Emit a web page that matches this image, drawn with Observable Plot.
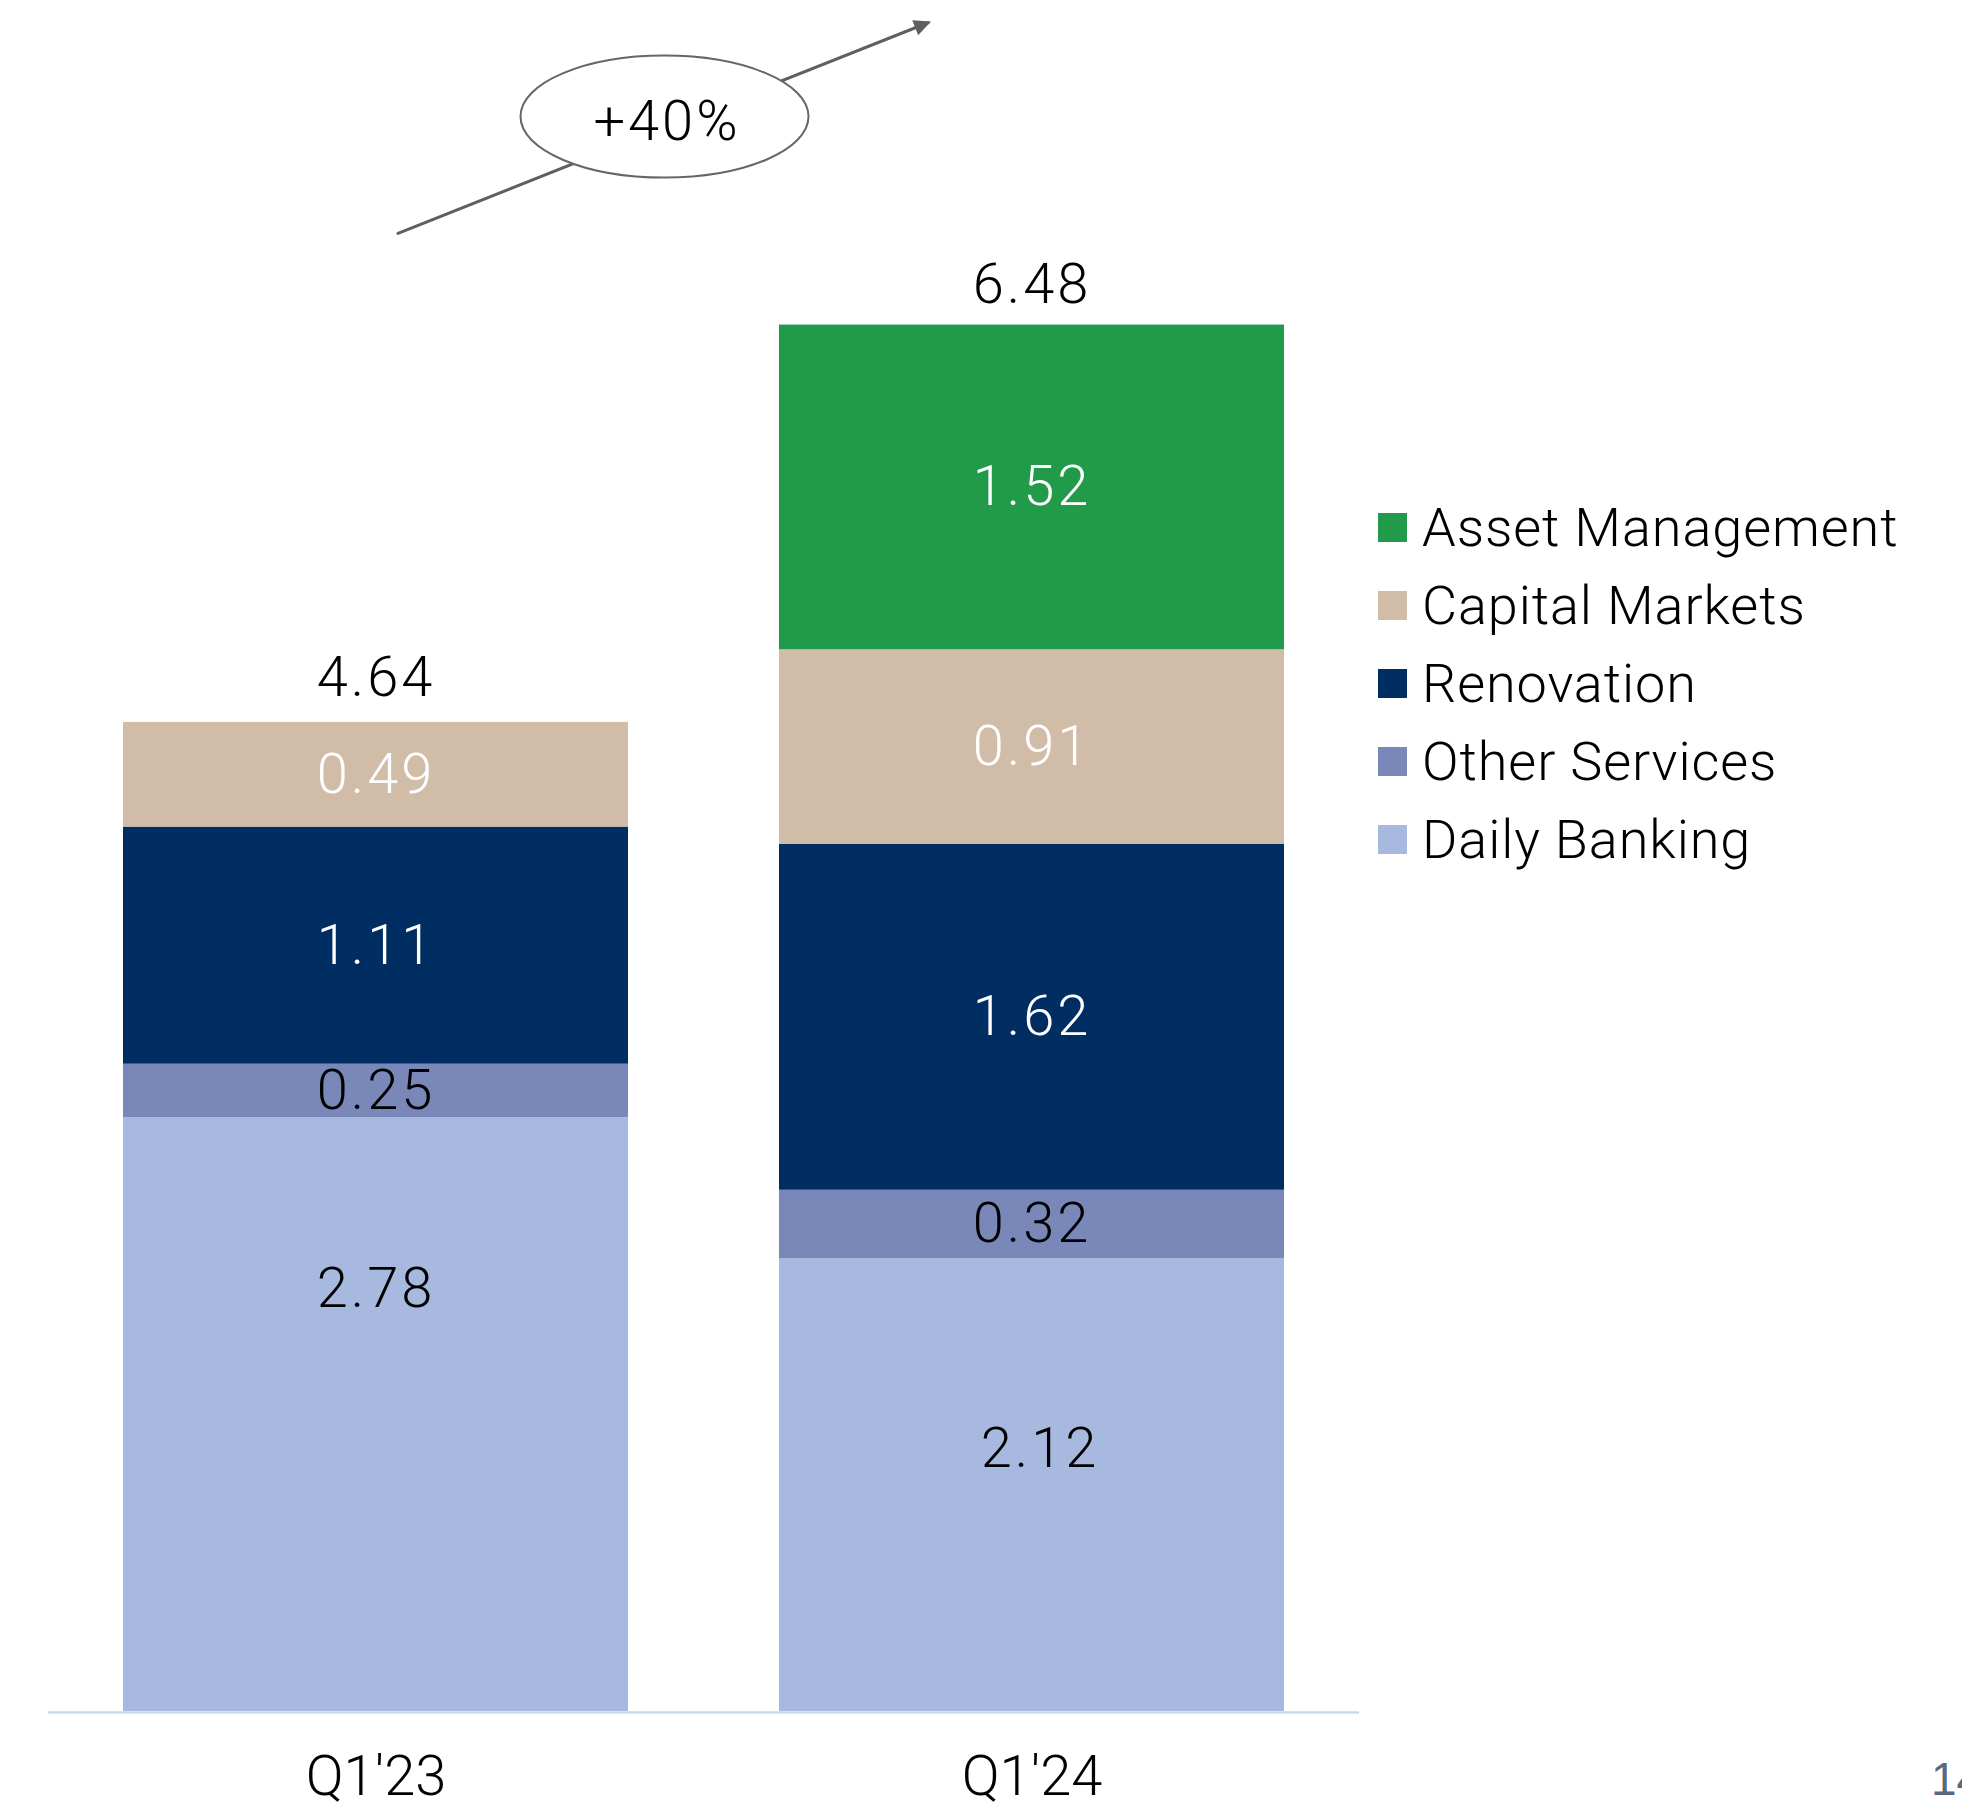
<!DOCTYPE html>
<html>
<head>
<meta charset="utf-8">
<script src="https://cdn.jsdelivr.net/npm/d3@7"></script>
<script src="https://cdn.jsdelivr.net/npm/@observablehq/plot@0.6"></script>
<style>
  html, body { margin: 0; padding: 0; background: #fff; overflow: hidden; }
  #wrap { position: relative; width: 1962px; height: 1807px; }
  #chart svg { display: block; }
  #legend { position: absolute; left: 1378px; top: 489px; width: 580px; }
  #legend .leg-swatches { font-family: Roboto, "Noto Sans", sans-serif; font-weight: 300; font-size: 54px; line-height: 77px; letter-spacing: 0.9px; color: #000; margin: 0; }
  #legend .leg-swatch { padding-bottom: 1px; }
  #legend .leg-swatch > svg { margin-right: 15px; }
  #page { position: absolute; left: 1931px; top: 1752px; font-family: "Liberation Sans", sans-serif; font-size: 46px; color: #5a6780; white-space: nowrap; }
</style>
</head>
<body>
<div id="wrap">
  <div id="chart"></div>
  <div id="legend"></div>
  <div id="page">14</div>
</div>
<script>
// ---------- data ----------
const quarters = ["Q1'23", "Q1'24"];
const segments = ["Daily Banking", "Other Services", "Renovation", "Capital Markets", "Asset Management"]; // bottom -> top
const dailyBanking    = [2.78, 2.12];
const otherServices   = [0.25, 0.32];
const renovation      = [1.11, 1.62];
const capitalMarkets  = [0.49, 0.91];
const assetManagement = [null, 1.52];
const totals          = [4.64, 6.48];

// ---------- styling ----------
const segmentColors = ["#A8B9E0", "#7A88B9", "#002D62", "#D1BCA8", "#219A4A"];
const whiteLabelSegments = new Set(["Renovation", "Capital Markets", "Asset Management"]);
const FONT = "Roboto, 'Noto Sans', sans-serif";
const fmt = d3.format(".2f");

// ---------- build table ----------
const seriesValues = [dailyBanking, otherServices, renovation, capitalMarkets, assetManagement];
const rows = [];
quarters.forEach((q, qi) => {
  let base = 0;
  segments.forEach((s, si) => {
    const v = seriesValues[si][qi];
    if (v == null) return;
    rows.push({quarter: q, segment: s, value: v, mid: base + v / 2});
    base += v;
  });
});
const totalRows = quarters.map((q, i) => ({quarter: q, total: totals[i]}));
const growth = Math.round((totals[1] / totals[0] - 1) * 100);
const growthLabel = [{label: `+${growth}%`}];

// annotation (growth arrow between the two bars)
const growthArrow = [{from: quarters[0], to: quarters[1], y1: 6.878, y2: 8.099}];
const arrowTip = [{quarter: quarters[1], y: 7.911}];

const ellipseSymbol = {
  draw(ctx) {
    const rx = 144, ry = 61, k = 0.5523;
    ctx.moveTo(rx, 0);
    ctx.bezierCurveTo(rx, ry * k, rx * k, ry, 0, ry);
    ctx.bezierCurveTo(-rx * k, ry, -rx, ry * k, -rx, 0);
    ctx.bezierCurveTo(-rx, -ry * k, -rx * k, -ry, 0, -ry);
    ctx.bezierCurveTo(rx * k, -ry, rx, -ry * k, rx, 0);
    ctx.closePath();
  }
};
const headSymbol = {
  draw(ctx) {
    ctx.moveTo(0, 0);
    ctx.lineTo(-17, -8);
    ctx.lineTo(-17, 8);
    ctx.closePath();
  }
};

const labelFont = {fontFamily: FONT, fontWeight: 300, fontSize: 56};
const isDB = d => d.segment === "Daily Banking";

const marks = [
  Plot.barY(rows, {x: "quarter", y: "value", fill: "segment"}),
  Plot.ruleY([0], {stroke: "#C5DAF2", strokeWidth: 2.5, dy: 1}),
  Plot.text(rows.filter(d => whiteLabelSegments.has(d.segment)), {x: "quarter", y: "mid", text: d => fmt(d.value), fill: "white", ...labelFont}),
  Plot.text(rows.filter(d => !whiteLabelSegments.has(d.segment) && !isDB(d)), {x: "quarter", y: "mid", text: d => fmt(d.value), fill: "black", ...labelFont}),
  Plot.text(rows.filter(d => isDB(d) && d.quarter === quarters[0]), {x: "quarter", y: "mid", text: d => fmt(d.value), fill: "black", dy: -125, ...labelFont}),
  Plot.text(rows.filter(d => isDB(d) && d.quarter === quarters[1]), {x: "quarter", y: "mid", text: d => fmt(d.value), fill: "black", dy: -36, dx: 8, ...labelFont}),
  Plot.text(totalRows, {x: "quarter", y: "total", text: d => fmt(d.total), fill: "black", dy: -42, ...labelFont}),
  Plot.arrow(growthArrow, {x1: "from", x2: "to", y1: "y1", y2: "y2", insetStart: 23.7, insetEnd: 112, headLength: 0, stroke: "#5f5f5f", strokeWidth: 3}),
  Plot.dot(arrowTip, {x: "quarter", y: "y", dx: -101, symbol: headSymbol, rotate: -21.7, fill: "#5f5f5f", stroke: "none"}),
  Plot.dot(growthLabel, {y: () => 7.466, dx: -39.5, symbol: ellipseSymbol, fill: "white", stroke: "#666", strokeWidth: 2}),
  Plot.text(growthLabel, {y: () => 7.44, dx: -37, text: "label", fill: "black", ...labelFont})
];
if (typeof Plot.axisX === "function") {
  marks.push(Plot.axisX({tickSize: 0, tickPadding: 44, label: null, fill: "black", fontSize: 56, fontFamily: FONT, fontWeight: 300}));
}

const chart = Plot.plot({
  width: 1962,
  height: 1807,
  marginTop: 2,
  marginBottom: 96,
  marginLeft: 48,
  marginRight: 603,
  x: {type: "band", domain: quarters, paddingInner: 0.23, paddingOuter: 0.114, label: null, tickSize: 0, tickPadding: 44},
  y: {domain: [0, 8], axis: null},
  color: {domain: segments, range: segmentColors},
  style: {fontFamily: FONT, fontSize: "56px", fontWeight: 300, background: "white", overflow: "visible", color: "black"},
  marks
});
// wider tracking on the value labels, like the reference's light face
d3.select(chart).selectAll('g[aria-label="text"] text').style("letter-spacing", "3px");
document.getElementById("chart").appendChild(chart);

// legend (top -> bottom mirrors the stack order)
const legend = Plot.legend({
  color: {type: "ordinal", domain: segments.slice().reverse(), range: segmentColors.slice().reverse()},
  legend: "swatches",
  columns: 1,
  swatchWidth: 29,
  swatchHeight: 29,
  className: "leg"
});
document.getElementById("legend").appendChild(legend);
</script>
</body>
</html>
